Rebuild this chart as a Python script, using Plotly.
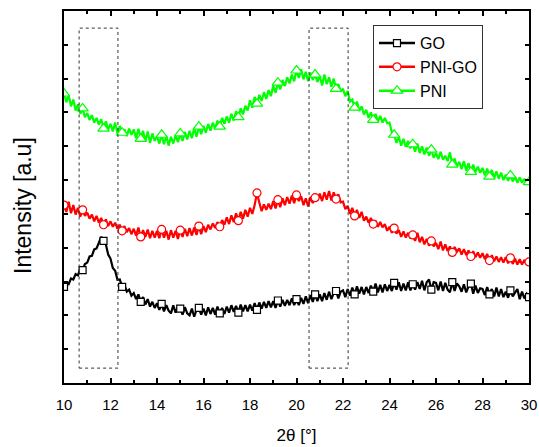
import numpy as np
import plotly.graph_objects as go

# 2-theta scan grid (degrees), 0.1 deg step
two_theta = np.round(np.linspace(10.0, 30.0, 201), 1)

# Intensities (arbitrary units), one row per degree
go_counts = [
    284, 296, 292, 309, 306, 322, 318, 338, 334, 352,
    356, 374, 376, 395, 398, 418, 432, 420, 410, 380,
    368, 340, 332, 305, 306, 284, 290, 270, 276, 258,
    266, 248, 262, 240, 254, 232, 248, 226, 240, 222,
    236, 216, 234, 212, 230, 214, 206, 230, 208, 226,
    220, 202, 224, 206, 200, 220, 196, 216, 222, 202,
    220, 200, 224, 204, 222, 202, 226, 206, 222, 204,
    226, 208, 230, 210, 228, 208, 232, 212, 230, 212,
    232, 214, 236, 216, 238, 220, 240, 222, 242, 224,
    242, 222, 244, 226, 246, 228, 246, 230, 250, 230,
    248, 230, 252, 234, 256, 236, 260, 240, 262, 242,
    262, 242, 266, 246, 270, 248, 266, 272, 250, 270,
    274, 254, 278, 258, 282, 262, 286, 264, 284, 262,
    284, 266, 288, 270, 294, 268, 290, 268, 292, 272,
    290, 272, 296, 276, 298, 272, 294, 274, 298, 274,
    292, 276, 298, 278, 302, 274, 298, 306, 276, 298,
    296, 274, 300, 272, 296, 276, 268, 298, 272, 294,
    286, 270, 292, 268, 286, 294, 264, 288, 266, 280,
    278, 260, 284, 262, 278, 256, 282, 256, 278, 254,
    270, 252, 274, 256, 268, 278, 248, 270, 250, 264,
    254,
]

pni_go_counts = [
    526, 506, 536, 502, 526, 498, 518, 492, 512, 494,
    504, 486, 498, 478, 494, 474, 488, 468, 484, 464,
    478, 462, 474, 456, 468, 450, 464, 446, 458, 440,
    456, 436, 460, 432, 452, 432, 454, 428, 450, 430,
    450, 428, 454, 430, 450, 424, 452, 430, 450, 426,
    452, 432, 456, 434, 458, 436, 460, 438, 464, 440,
    464, 446, 468, 454, 472, 458, 476, 462, 482, 468,
    490, 470, 496, 476, 502, 480, 506, 486, 512, 492,
    518, 500, 526, 562, 534, 508, 528, 512, 530, 514,
    538, 516, 542, 520, 546, 526, 550, 530, 554, 532,
    556, 538, 552, 526, 546, 522, 550, 532, 548, 540,
    560, 538, 564, 542, 568, 540, 564, 544, 558, 534,
    536, 514, 524, 500, 518, 494, 512, 488, 506, 480,
    492, 474, 488, 470, 480, 462, 476, 460, 470, 450,
    462, 444, 458, 442, 452, 432, 448, 430, 444, 428,
    438, 420, 444, 416, 432, 410, 426, 406, 420, 404,
    414, 396, 418, 392, 410, 390, 404, 386, 402, 388,
    398, 380, 396, 378, 392, 374, 390, 372, 386, 370,
    384, 366, 382, 362, 378, 360, 374, 358, 372, 356,
    372, 354, 370, 352, 368, 350, 366, 350, 364, 352,
    358,
]

pni_counts = [
    856, 830, 852, 818, 838, 806, 824, 796, 812, 786,
    798, 778, 792, 770, 784, 764, 780, 752, 774, 750,
    766, 744, 770, 738, 760, 740, 750, 730, 752, 734,
    750, 724, 752, 722, 746, 714, 744, 710, 738, 716,
    730, 708, 734, 706, 730, 702, 728, 708, 732, 712,
    738, 716, 742, 720, 746, 724, 754, 728, 758, 736,
    760, 740, 766, 746, 770, 752, 776, 758, 784, 766,
    788, 770, 796, 776, 804, 786, 812, 794, 820, 806,
    836, 814, 846, 826, 852, 834, 860, 840, 866, 848,
    880, 858, 888, 868, 896, 878, 904, 886, 912, 892,
    924, 902, 928, 898, 920, 892, 918, 896, 912, 890,
    908, 880, 912, 884, 904, 876, 900, 870, 884, 862,
    870, 848, 864, 832, 838, 814, 832, 804, 818, 794,
    808, 784, 800, 778, 796, 772, 790, 770, 784, 768,
    770, 742, 734, 710, 728, 702, 722, 698, 716, 694,
    706, 684, 708, 680, 700, 676, 696, 672, 690, 666,
    680, 662, 684, 660, 672, 656, 682, 646, 664, 640,
    654, 632, 656, 628, 650, 624, 646, 624, 640, 622,
    636, 614, 634, 610, 630, 606, 626, 604, 622, 600,
    616, 598, 614, 596, 610, 592, 608, 592, 604, 590,
    594,
]

series_names = ["GO", "PNI-GO", "PNI"]
series_values = [go_counts, pni_go_counts, pni_counts]

# Highlighted 2-theta windows (deg)
windows = [(10.65, 12.32), (20.54, 22.22)]

colors = ["#000000", "#FF0000", "#00FF00"]
symbols = ["square", "circle", "triangle-up"]
symbol_sizes = [7, 8, 10]

# Every ~8th scan point carries a symbol
n_pts = len(two_theta)
marker_idx = [int(round(k * (n_pts - 1) / 24)) for k in range(25)]

FONT = "Arial, 'Liberation Sans', sans-serif"

fig = go.Figure()
for name, vals, col, sym, ms in zip(series_names, series_values, colors, symbols, symbol_sizes):
    vals = np.asarray(vals, dtype=float)
    fig.add_trace(go.Scatter(
        x=two_theta, y=vals, mode="lines",
        line=dict(color=col, width=2.2), showlegend=False, hoverinfo="skip",
    ))
    fig.add_trace(go.Scatter(
        x=two_theta[marker_idx], y=vals[marker_idx], mode="markers",
        marker=dict(symbol=sym, size=ms, color="white",
                    line=dict(color=col, width=1.2)),
        showlegend=False,
    ))
    # legend entry: line with symbol
    fig.add_trace(go.Scatter(
        x=[None], y=[None], mode="lines+markers", name=name,
        line=dict(color=col, width=2.5),
        marker=dict(symbol=sym, size=ms, color="white",
                    line=dict(color=col, width=1.2)),
    ))

for x0, x1 in windows:
    fig.add_shape(type="rect", xref="x", yref="paper", x0=x0, x1=x1, y0=0.040, y1=0.954,
                  line=dict(color="#333333", width=1, dash="dot"), fillcolor="rgba(0,0,0,0)")

# y-axis caption
fig.add_annotation(
    text="Intensity [a.u]", textangle=-90, showarrow=False,
    xref="paper", yref="paper", x=-0.088, y=0.476, xanchor="center", yanchor="middle",
    font=dict(size=23, family=FONT, color="black"),
)

fig.update_layout(
    width=539, height=447,
    margin=dict(l=64, r=10, t=11, b=64),
    paper_bgcolor="white", plot_bgcolor="white",
    font=dict(family=FONT, color="black"),
    legend=dict(x=0.6645, y=0.962, xanchor="left", yanchor="top",
                bordercolor="#333333", borderwidth=1, bgcolor="white",
                font=dict(size=16, family=FONT), tracegroupgap=0,
                itemwidth=36, entrywidth=62, entrywidthmode="pixels"),
)
fig.update_xaxes(
    range=[10, 30], dtick=2, tick0=10, automargin=False,
    ticks="inside", ticklen=5, tickwidth=1.5, tickcolor="black",
    minor=dict(dtick=1, ticks="inside", ticklen=3, tickwidth=1.5, tickcolor="black"),
    showline=True, linewidth=2, linecolor="black", mirror="ticks",
    showgrid=False, zeroline=False,
    tickfont=dict(size=15, family=FONT), ticklabelstandoff=7,
    title=dict(text="2θ [°]", font=dict(size=17, family=FONT), standoff=17),
)
fig.update_yaxes(
    range=[0, 1100], dtick=100, tick0=0, automargin=False,
    ticks="inside", ticklen=4, tickwidth=1.5, tickcolor="black",
    showticklabels=False,
    showline=True, linewidth=2, linecolor="black", mirror="ticks",
    showgrid=False, zeroline=False,
)

fig.write_html("out.html")
